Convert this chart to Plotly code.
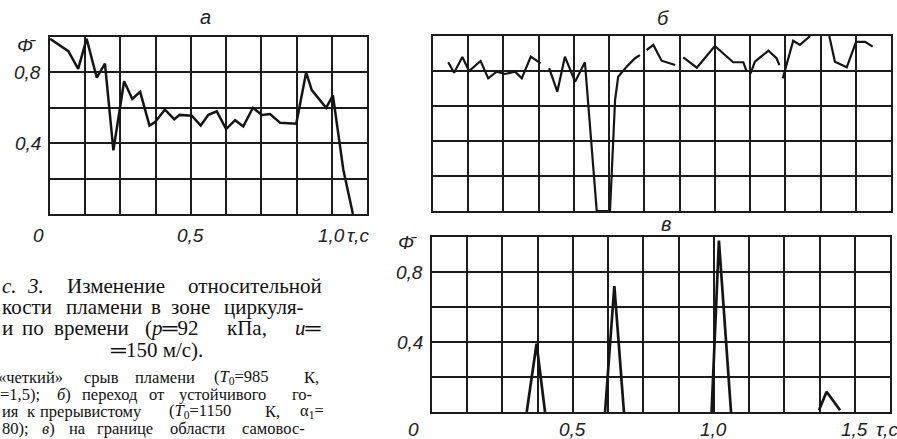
import plotly.graph_objects as go

W, H = 897, 439

# ---------------- data ----------------
# panel а
t_a = [0.000, 0.065, 0.100, 0.130, 0.166, 0.195, 0.225, 0.263, 0.292, 0.320,
       0.353, 0.373, 0.408, 0.441, 0.460, 0.503, 0.535, 0.562, 0.592, 0.625,
       0.657, 0.686, 0.720, 0.752, 0.781, 0.817, 0.874, 0.909, 0.929, 0.980,
       1.004, 1.041, 1.075]
phi_a = [0.99, 0.92, 0.82, 0.99, 0.77, 0.85, 0.36, 0.75, 0.65, 0.69,
         0.50, 0.52, 0.59, 0.535, 0.56, 0.555, 0.50, 0.56, 0.58, 0.48,
         0.53, 0.495, 0.60, 0.56, 0.565, 0.515, 0.51, 0.80, 0.70, 0.60,
         0.67, 0.25, 0.0]

# panel б
t_b = [0.054, 0.075, 0.104, 0.128, 0.169, 0.196, 0.226, 0.255, 0.291, 0.315, 0.347, 0.382, None,
       0.412, 0.441, 0.468, 0.504, 0.539, 0.581, 0.628, 0.646, 0.657, 0.687, 0.717, 0.734, None,
       0.758, 0.782, 0.811, 0.859, None,
       0.888, 0.936, 1.000, 1.065, 1.101, 1.113, None,
       1.127, 1.142, 1.190, 1.219, 1.229, None,
       1.241, 1.278, 1.302, 1.338, None,
       1.406, 1.426, 1.468, 1.501, 1.533, 1.560]
phi_b = [0.85, 0.79, 0.88, 0.80, 0.857, 0.758, 0.796, 0.783, 0.796, 0.758, 0.882, 0.844, None,
         0.817, 0.682, 0.882, 0.739, 0.85, 0.0, 0.0, 0.634, 0.767, 0.825, 0.873, 0.891, None,
         0.92, 0.949, 0.859, 0.834, None,
         0.878, 0.819, 0.943, 0.85, 0.85, 0.796, None,
         0.787, 0.853, 0.916, 0.873, 0.834, None,
         0.758, 0.973, 0.949, 1.0, None,
         1.0, 0.853, 0.821, 0.967, 0.967, 0.939]

# panel в
t_v = [0.336, 0.371, 0.401, None, 0.614, 0.647, 0.681, None,
       0.992, 1.018, 1.061, None, 1.373, 1.400, 1.448]
phi_v = [0.0, 0.39, 0.0, None, 0.0, 0.72, 0.0, None,
         0.0, 0.98, 0.0, None, 0.01, 0.116, 0.01]

x_ticks_a = [0.5, 1.0]
x_ticklabels_a = ["0,5", "1,0"]
x_ticks_v = [0.5, 1.0, 1.5]
x_ticklabels_v = ["0,5", "1,0", "1,5"]
y_ticks = [0.8, 0.4]
y_ticklabels = ["0,8", "0,4"]

# ---------------- layout helpers ----------------
def px(x):
    return x / W


def py(y):
    return 1 - y / H


INK = "#141414"
GRID = "#1c1c1c"
LBL_FONT = dict(family="Liberation Sans", size=19, color="#222")
TITLE_FONT = dict(family="Liberation Sans", size=20, color="#222")

fig = go.Figure()
fig.add_trace(go.Scatter(x=t_a, y=phi_a, mode="lines", xaxis="x", yaxis="y",
                         line=dict(color=INK, width=2.5), connectgaps=False))
fig.add_trace(go.Scatter(x=t_b, y=phi_b, mode="lines", xaxis="x2", yaxis="y2",
                         line=dict(color=INK, width=2.2), connectgaps=False))
fig.add_trace(go.Scatter(x=t_v, y=phi_v, mode="lines", xaxis="x3", yaxis="y3",
                         line=dict(color=INK, width=2.7), connectgaps=False))


def xax(rng, dom, anchor):
    return dict(range=rng, domain=dom, anchor=anchor, tick0=0, dtick=0.125,
                showgrid=True, gridcolor=GRID, gridwidth=1.5, showline=True,
                mirror=True, linecolor=GRID, linewidth=1.7, zeroline=False,
                showticklabels=False, ticks="", fixedrange=True)


def yax(dom, anchor):
    return dict(range=[0, 1], domain=dom, anchor=anchor, tick0=0, dtick=0.2,
                showgrid=True, gridcolor=GRID, gridwidth=1.5, showline=True,
                mirror=True, linecolor=GRID, linewidth=1.7, zeroline=False,
                showticklabels=False, ticks="", fixedrange=True)


ann = []


def label(text, x, y, xref, yref, xanchor="center", xshift=0, yshift=0, font=None):
    ann.append(dict(text=text, x=x, y=y, xref=xref, yref=yref, showarrow=False,
                    xanchor=xanchor, yanchor="middle", xshift=xshift, yshift=yshift,
                    font=font or LBL_FONT))


# panel а labels
label("<i>0</i>", 0, 0, "x", "y", xshift=-12, yshift=-21)
for v, s in zip(x_ticks_a, x_ticklabels_a):
    label("<i>" + s + "</i>", v, 0, "x", "y", yshift=-21)
label("<i>τ,с</i>", 1.0, 0, "x", "y", xanchor="left", xshift=13, yshift=-21)
for v, s in zip(y_ticks, y_ticklabels):
    label("<i>" + s + "</i>", 0, v, "x", "y", xanchor="right", xshift=-7)
label("<i>Φ\u0304</i>", 0, 0.95, "x", "y", xanchor="right", xshift=-12)
label("<i>а</i>", 0.552, 1.0, "x", "y", yshift=20, font=TITLE_FONT)

# panel б
label("<i>б</i>", 0.815, 1.0, "x2", "y2", yshift=18, font=TITLE_FONT)

# panel в
label("<i>0</i>", 0, 0, "x3", "y3", xshift=-19, yshift=-17)
for v, s in zip(x_ticks_v, x_ticklabels_v):
    label("<i>" + s + "</i>", v, 0, "x3", "y3", yshift=-17)
label("<i>τ,с</i>", 1.5, 0, "x3", "y3", xanchor="left", xshift=19, yshift=-17)
for v, s in zip(y_ticks, y_ticklabels):
    label("<i>" + s + "</i>", 0, v, "x3", "y3", xanchor="right", xshift=-7)
label("<i>Φ\u0304</i>", 0, 0.97, "x3", "y3", xanchor="right", xshift=-13)
label("<i>в</i>", 0.83, 1.0, "x3", "y3", yshift=13, font=TITLE_FONT)

# caption (cropped scan text), words placed at their pixel positions
BIG = dict(family="Liberation Serif", size=21, color="#111")
SMALL = dict(family="Liberation Serif", size=16.5, color="#111")
caption = [
    (286, BIG, [(0, "<i>с.</i>"), (25, "<i>3.</i>"), (65, "Изменение"), (186, "относительной")]),
    (307, BIG, [(0, "кости"), (64, "пламени"), (149, "в"), (169, "зоне"), (222, "циркуля-")]),
    (328, BIG, [(0, "и"), (20, "по"), (52, "времени"), (143, "(<i>p</i>═92"), (225, "кПа,"), (293, "<i>u</i>═")]),
    (350, BIG, [(108, "═150 м/с).")]),
    (377, SMALL, [(-4, "«четкий»"), (82, "срыв"), (133, "пламени"), (212, "(<i>T</i><sub>0</sub>=985"), (302, "К,")]),
    (394, SMALL, [(-2, "=1,5);"), (55, "<i>б</i>)"), (80, "переход"), (147, "от"), (177, "устойчивого"), (290, "го-")]),
    (411, SMALL, [(0, "ия"), (25, "к"), (38, "прерывистому"), (167, "(<i>T</i><sub>0</sub>=1150"), (263, "К,"), (298, "α<sub>1</sub>=")]),
    (428, SMALL, [(0, "80);"), (40, "<i>в</i>)"), (67, "на"), (95, "границе"), (168, "области"), (240, "самовос-")]),
]
for ypx, fnt, words in caption:
    for xpx, w in words:
        ann.append(dict(text=w, x=px(xpx), y=py(ypx), xref="paper", yref="paper",
                        showarrow=False, xanchor="left", yanchor="middle", font=fnt))

fig.update_layout(
    width=W, height=H, margin=dict(l=0, r=0, t=0, b=0),
    paper_bgcolor="white", plot_bgcolor="white", showlegend=False,
    xaxis=xax([0, 1.125], [px(50), px(367)], "y"),
    yaxis=yax([py(214), py(37)], "x"),
    xaxis2=xax([0, 1.625], [px(433), px(891)], "y2"),
    yaxis2=yax([py(211), py(36)], "x2"),
    xaxis3=xax([0, 1.625], [px(432), px(890)], "y3"),
    yaxis3=yax([py(412), py(237)], "x3"),
    annotations=ann,
)

fig.write_html("out.html", config={"displayModeBar": False},
               post_script="document.body.style.margin='0px';document.body.style.overflow='hidden';")
